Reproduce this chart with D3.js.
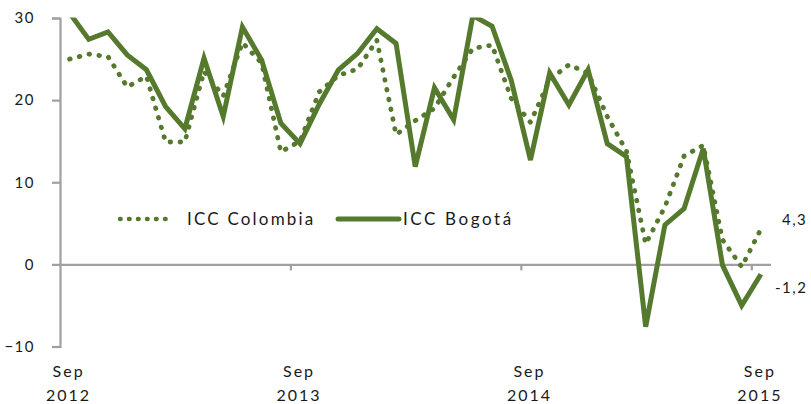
<!DOCTYPE html>
<html>
<head>
<meta charset="utf-8" />
<title>ICC Colombia vs ICC Bogotá</title>
<script src="https://cdn.jsdelivr.net/npm/d3@7/dist/d3.min.js"></script>
<style>
  body { margin: 0; background: #fff; }
  svg text { font-family: Lato, "Open Sans", sans-serif; fill: #1a1a1a; }
</style>
</head>
<body>
<script>
// months Sep 2012 .. Sep 2015
const months = d3.timeMonth.range(new Date(2012, 8, 1), new Date(2015, 9, 1));

const iccColombia = [25.0, 25.6, 25.3, 21.6, 22.9, 14.9, 14.9, 23.5, 20.5, 27.0,
  24.5, 13.7, 15.0, 21.0, 23.0, 23.8, 27.3, 15.8, 17.5, 19.0,
  22.8, 26.3, 26.7, 20.2, 17.3, 22.5, 24.3, 23.3, 18.0, 13.8,
  2.5, 7.0, 13.2, 14.5, 3.0, -0.3, 4.3];

const iccBogota = [30.6, 27.4, 28.3, 25.5, 23.7, 19.2, 16.5, 25.1, 18.0, 28.9,
  24.9, 17.2, 14.7, 19.5, 23.7, 25.7, 28.7, 26.9, 11.9, 21.5,
  17.6, 30.3, 29.0, 22.4, 12.7, 23.3, 19.4, 23.7, 14.7, 13.1,
  -7.6, 4.8, 6.8, 14.1, -0.1, -5.0, -1.2];

const yTicks = [-10, 0, 10, 20, 30];
const xTickIdx = [0, 12, 24, 36];          // Sep of each year
const xTickLabels = [["Sep", "2012"], ["Sep", "2013"], ["Sep", "2014"], ["Sep", "2015"]];
const endLabels = ["4,3", "-1,2"];

const width = 811, height = 404;
const green = "#557a2d", grey = "#a0a0a0";

const svg = d3.select("body").append("svg")
  .attr("width", width)
  .attr("height", height);

const x = d3.scaleLinear().domain([0, months.length]).range([60, 770.5]);
const y = d3.scaleLinear().domain([-10, 30]).range([346.5, 18]);

// clip to the plot area (lines run off the top at 30)
svg.append("defs").append("clipPath").attr("id", "plot")
  .append("rect")
  .attr("x", 0).attr("y", y(30) - 0.5)
  .attr("width", width).attr("height", height);

// y axis
const yAxis = svg.append("g")
  .attr("transform", "translate(60,0)")
  .call(d3.axisLeft(y).tickValues(yTicks).tickSize(8).tickPadding(17).tickFormat(d3.format("d")));
yAxis.select(".domain").attr("stroke", grey).attr("stroke-width", 2.2);
yAxis.selectAll(".tick line").attr("stroke", grey).attr("stroke-width", 2.2);
yAxis.selectAll(".tick text").style("font-size", "15px").attr("letter-spacing", "1.5px").attr("fill", "#1a1a1a");

// x axis through zero
const xAxis = svg.append("g")
  .attr("transform", `translate(0,${y(0)})`)
  .call(d3.axisBottom(x).tickValues(xTickIdx.slice(1)).tickSize(6).tickSizeOuter(0).tickFormat(""));
xAxis.select(".domain").attr("stroke", grey).attr("stroke-width", 2.2);
xAxis.selectAll(".tick line").attr("stroke", grey).attr("stroke-width", 2.2);

// category labels (two lines), centred on the month
const xl = svg.append("g").selectAll("text")
  .data(xTickIdx)
  .join("text")
  .attr("x", d => x(d + 0.5) - 1)
  .attr("y", 377)
  .attr("text-anchor", "middle")
  .style("font-size", "16px")
  .attr("letter-spacing", "2px");
xl.append("tspan").text((d, i) => xTickLabels[i][0]);
xl.append("tspan").attr("x", d => x(d + 0.5) - 1).attr("dy", 23.5).text((d, i) => xTickLabels[i][1]);

const line = d3.line()
  .x((d, i) => x(i + 0.5))
  .y(d => y(d));

const lines = svg.append("g").attr("clip-path", "url(#plot)");

lines.append("path")
  .datum(iccColombia)
  .attr("d", line)
  .attr("fill", "none")
  .attr("stroke", green)
  .attr("stroke-width", 4.8)
  .attr("stroke-linecap", "round")
  .attr("stroke-dasharray", "0.6 9.4");

lines.append("path")
  .datum(iccBogota)
  .attr("d", line)
  .attr("fill", "none")
  .attr("stroke", green)
  .attr("stroke-width", 5)
  .attr("stroke-linejoin", "miter");

// end value labels
svg.append("text")
  .attr("x", 782).attr("y", 225)
  .style("font-size", "15px").attr("letter-spacing", "1.5px")
  .text(endLabels[0]);
svg.append("text")
  .attr("x", 775).attr("y", 293)
  .style("font-size", "15px").attr("letter-spacing", "1.5px")
  .text(endLabels[1]);

// legend
const legend = svg.append("g");
legend.append("line")
  .attr("x1", 120).attr("x2", 171).attr("y1", 219).attr("y2", 219)
  .attr("stroke", green).attr("stroke-width", 4.5)
  .attr("stroke-linecap", "round").attr("stroke-dasharray", "0.6 8.4");
legend.append("text")
  .attr("x", 187).attr("y", 225)
  .style("font-size", "17px").attr("letter-spacing", "2.2px")
  .text("ICC Colombia");
legend.append("line")
  .attr("x1", 338).attr("x2", 399).attr("y1", 219).attr("y2", 219)
  .attr("stroke", green).attr("stroke-width", 5)
  .attr("stroke-linecap", "round");
legend.append("text")
  .attr("x", 403).attr("y", 225)
  .style("font-size", "17px").attr("letter-spacing", "2.6px")
  .text("ICC Bogotá");
</script>
</body>
</html>
